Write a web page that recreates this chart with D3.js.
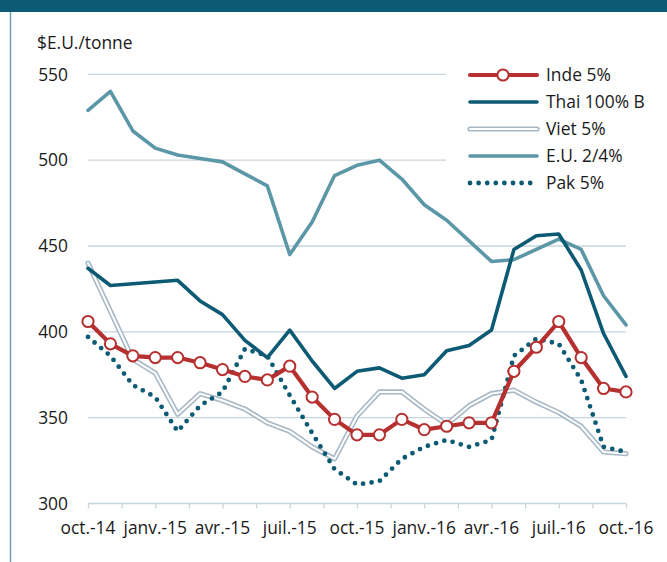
<!DOCTYPE html>
<html>
<head>
<meta charset="utf-8">
<script src="https://cdn.jsdelivr.net/npm/d3@7"></script>
<style>
  body { margin: 0; background: #fff; }
  svg text { font-family: "Open Sans", sans-serif; fill: #1a1a1a; }
</style>
</head>
<body>
<svg width="667" height="562"></svg>
<script>
// monthly prices, oct.-14 .. oct.-16
const monthLabels = ["oct.-14", "janv.-15", "avr.-15", "juil.-15", "oct.-15", "janv.-16", "avr.-16", "juil.-16", "oct.-16"]
const yTicks = [300, 350, 400, 450, 500, 550]

const inde = [406, 393, 386, 385, 385, 382, 378, 374, 372, 380, 362, 349, 340, 340, 349, 343, 345, 347, 347, 377, 391, 406, 385, 367, 365]
const thai = [437, 427, 428, 429, 430, 418, 410, 395, 385, 401, 383, 367, 377, 379, 373, 375, 389, 392, 401, 448, 456, 457, 436, 399, 374]
const viet = [440, 412, 384, 376, 352, 364, 360, 355, 347, 342, 333, 326, 351, 365, 365, 355, 346, 357, 364, 366, 359, 353, 345, 330, 329]
const eu   = [529, 540, 517, 507, 503, 501, 499, 492, 485, 445, 464, 491, 497, 500, 489, 474, 465, 453, 441, 442, 448, 454, 448, 421, 404]
const pak  = [397, 386, 369, 362, 342, 357, 365, 390, 386, 363, 341, 320, 311, 313, 326, 333, 337, 333, 337, 386, 396, 393, 372, 333, 330]

const svg = d3.select("svg")
const width = 667, height = 562
const margin = {top: 74.3, right: 41, bottom: 58.5, left: 88}

const x = d3.scaleLinear().domain([0, 24]).range([margin.left, width - margin.right])
const y = d3.scaleLinear().domain([300, 550]).range([height - margin.bottom, margin.top])

const gridColor = "#c9d5dd"

// frame
svg.append("rect").attr("x", 0).attr("y", 0).attr("width", width).attr("height", 12).attr("fill", "#0c5a73")
svg.append("line").attr("x1", 10.5).attr("x2", 10.5).attr("y1", 12).attr("y2", height)
    .attr("stroke", "#6d9fb0").attr("stroke-width", 1.5)

// gridlines
svg.append("g")
    .selectAll("line")
    .data(yTicks.slice(1))
    .join("line")
    .attr("x1", margin.left)
    .attr("x2", width - margin.right)
    .attr("y1", d => y(d))
    .attr("y2", d => y(d))
    .attr("stroke", gridColor)
    .attr("stroke-width", 1.3)

// y labels
svg.append("g")
    .selectAll("text")
    .data(yTicks)
    .join("text")
    .attr("x", 68)
    .attr("y", d => y(d))
    .attr("dy", "0.36em")
    .attr("text-anchor", "end")
    .attr("font-size", 17.4)
    .text(d => d)

svg.append("text").attr("x", 37).attr("y", 49).attr("font-size", 17.4).text("$E.U./tonne")

// x axis
const xAxis = g => g
    .attr("transform", `translate(0,${y(300)})`)
    .call(d3.axisBottom(x).tickValues(d3.range(0, 24.01, 1.5)).tickSize(5).tickFormat(""))
    .call(g => g.selectAll("line").attr("stroke", gridColor).attr("stroke-width", 1.3))
    .call(g => g.select(".domain").attr("stroke", gridColor).attr("stroke-width", 1.3).attr("d", `M${x(0)},0H${x(24)}`))

svg.append("g").call(xAxis)

svg.append("g")
    .selectAll("text")
    .data(monthLabels)
    .join("text")
    .attr("x", (d, i) => x(i * 3))
    .attr("y", 534)
    .attr("text-anchor", "middle")
    .attr("font-size", 17.4)
    .text(d => d)

// legend background hides the upper gridlines
svg.append("rect").attr("x", 446).attr("y", 58).attr("width", 200).attr("height", 138).attr("fill", "#fff")

const line = d3.line().x((d, i) => x(i)).y(d => y(d))

const series = [
    {name: "Viet 5%", data: viet},
    {name: "Pak 5%", data: pak},
    {name: "E.U. 2/4%", data: eu},
    {name: "Thai 100% B", data: thai},
    {name: "Inde 5%", data: inde}
]

const styles = {
    "Inde 5%": [{stroke: "#b5302f", w: 4.2}],
    "Thai 100% B": [{stroke: "#0c5a73", w: 3.6}],
    "Viet 5%": [{stroke: "#a7b8c6", w: 5.2}, {stroke: "#fff", w: 2}],
    "E.U. 2/4%": [{stroke: "#5b97a7", w: 3.6}],
    "Pak 5%": [{stroke: "#0c5a73", w: 4.8, dash: "0 8.6"}]
}

const drawPath = (g, d, st) => g.append("path")
    .attr("d", d)
    .attr("fill", "none")
    .attr("stroke", st.stroke)
    .attr("stroke-width", st.w)
    .attr("stroke-linejoin", "round")
    .attr("stroke-linecap", "round")
    .attr("stroke-dasharray", st.dash || null)

const plot = svg.append("g")
series.forEach(s => {
    styles[s.name].forEach(st => drawPath(plot, line(s.data), st))
})

plot.append("g")
    .selectAll("circle")
    .data(inde)
    .join("circle")
    .attr("cx", (d, i) => x(i))
    .attr("cy", d => y(d))
    .attr("r", 5.6)
    .attr("fill", "#fff")
    .attr("stroke", "#b5302f")
    .attr("stroke-width", 2)

// legend
const legendOrder = ["Inde 5%", "Thai 100% B", "Viet 5%", "E.U. 2/4%", "Pak 5%"]
const lg = svg.append("g")
legendOrder.forEach((name, i) => {
    const ly = 75 + i * 27
    styles[name].forEach(st => drawPath(lg, `M470,${ly}H537`, st))
    if (name === "Inde 5%") {
        lg.append("circle").attr("cx", 503).attr("cy", ly).attr("r", 5.6)
            .attr("fill", "#fff").attr("stroke", "#b5302f").attr("stroke-width", 2)
    }
    lg.append("text").attr("x", 546).attr("y", ly).attr("dy", "0.36em").attr("font-size", 17.4).text(name)
})
</script>
</body>
</html>
